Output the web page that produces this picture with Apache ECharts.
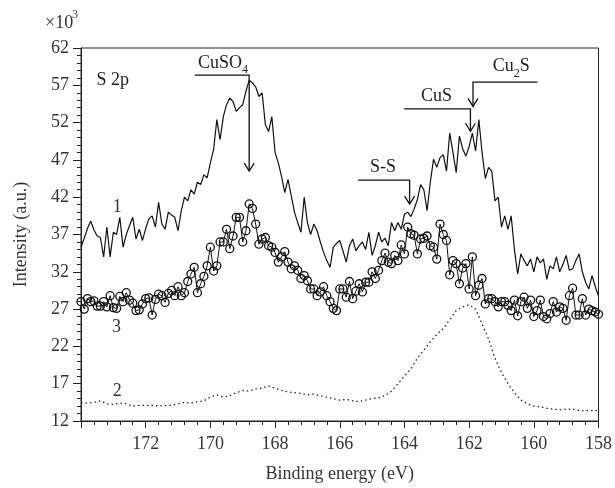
<!DOCTYPE html>
<html>
<head>
<meta charset="utf-8">
<script src="https://cdn.jsdelivr.net/npm/echarts@6/dist/echarts.min.js"></script>
<style>
html, body { margin: 0; padding: 0; background: #fff; }
#chart { width: 615px; height: 488px; }
</style>
</head>
<body>
<div id="chart"></div>
<script>
// binding energy goes 174 -> 158 eV, 0.1 eV step for curves 1 and 3, 0.2 eV for curve 2
const curve1 = [
  35.3, 36.5, 37.8, 38.8, 37.6, 36.8, 36.6, 34.0, 38.0, 34.0,
  37.3, 37.0, 39.3, 35.3, 37.0, 38.2, 39.3, 36.4, 37.7, 36.2,
  37.8, 39.1, 39.5, 38.0, 41.3, 38.4, 37.7, 40.0, 39.6, 39.3,
  37.5, 40.2, 42.0, 41.5, 43.0, 42.4, 44.0, 43.7, 45.0, 44.6,
  46.6, 48.4, 52.4, 49.7, 52.8, 54.4, 55.3, 54.8, 53.5, 54.0,
  54.4, 56.2, 57.7, 57.3, 56.8, 55.5, 56.0, 51.7, 50.8, 52.8,
  48.0, 46.6, 44.8, 42.6, 44.4, 42.2, 40.0, 38.6, 37.3, 42.0,
  38.6, 37.0, 38.4, 37.5, 36.0, 34.6, 33.5, 32.6, 35.3, 35.8,
  36.2, 34.8, 33.3, 35.5, 36.4, 34.8, 35.5, 36.0, 35.0, 37.3,
  34.2, 35.5, 37.3, 36.0, 36.5, 35.5, 38.6, 37.5, 38.6, 37.7,
  39.7, 40.0, 39.4, 40.4, 41.7, 43.7, 43.0, 40.2, 44.0, 47.1,
  46.0, 47.3, 47.7, 45.5, 50.6, 48.0, 45.3, 50.2, 48.5, 47.5,
  48.8, 50.6, 48.2, 52.4, 48.0, 44.5, 46.0, 45.5, 41.5, 42.0,
  38.0, 39.5, 37.7, 39.5, 35.0, 31.7, 34.4, 33.5, 32.8, 33.7,
  32.0, 34.0, 33.2, 33.7, 31.0, 32.8, 32.4, 34.0, 32.0, 33.0,
  34.2, 32.2, 32.4, 33.5, 34.4, 32.0, 30.6, 29.7, 31.5, 30.0,
  28.8
]
const curve3 = [
  28.0, 27.0, 28.4, 28.0, 28.1, 27.4, 27.4, 28.0, 27.3, 28.8,
  27.2, 27.1, 28.7, 28.0, 29.2, 28.2, 27.8, 26.8, 26.9, 27.7,
  28.4, 28.5, 26.2, 28.3, 29.0, 28.8, 27.9, 29.1, 29.5, 28.8,
  30.0, 28.8, 29.2, 30.7, 31.7, 32.6, 29.2, 30.4, 31.4, 32.8,
  35.3, 32.1, 32.8, 36.0, 36.0, 37.7, 35.1, 36.8, 39.3, 39.3,
  36.0, 37.5, 41.1, 40.5, 38.4, 35.7, 36.4, 36.6, 35.5, 35.3,
  34.6, 33.3, 34.0, 34.7, 33.3, 32.4, 32.8, 32.2, 31.1, 31.5,
  30.8, 29.7, 29.7, 28.8, 29.3, 30.0, 28.8, 28.0, 27.1, 26.8,
  29.7, 29.7, 28.6, 30.7, 28.4, 29.4, 30.4, 29.3, 30.6, 30.6,
  32.0, 31.1, 32.2, 33.5, 34.5, 33.3, 33.1, 34.2, 33.5, 35.6,
  34.4, 38.0, 37.1, 36.9, 34.4, 36.4, 36.5, 36.8, 35.5, 35.3,
  33.7, 38.4, 37.0, 36.2, 31.6, 33.5, 33.1, 30.4, 32.5, 33.1,
  29.7, 34.0, 28.8, 30.2, 31.1, 27.7, 28.4, 28.4, 28.0, 27.3,
  28.0, 28.0, 27.5, 26.8, 28.2, 26.1, 28.0, 28.6, 27.1, 28.2,
  26.0, 26.8, 28.2, 26.0, 25.7, 26.4, 28.0, 26.6, 27.3, 27.1,
  25.5, 28.8, 29.8, 26.2, 26.2, 28.4, 26.2, 27.0, 26.8, 26.6,
  26.3
]
const curve2 = [
  14.4, 14.4, 14.5, 14.7, 14.3, 14.2, 14.4, 14.3, 14.0, 14.1,
  14.1, 14.1, 14.0, 14.1, 14.1, 14.3, 14.5, 14.4, 14.6, 14.7,
  15.2, 15.5, 15.2, 15.4, 15.8, 16.1, 16.0, 16.3, 16.4, 16.7,
  16.4, 16.1, 15.9, 15.8, 15.7, 15.5, 15.6, 15.4, 15.2, 15.0,
  14.8, 14.9, 14.7, 14.6, 14.8, 15.0, 15.1, 15.4, 16.0, 17.0,
  18.0, 19.0, 20.4, 21.5, 22.6, 23.6, 24.4, 25.6, 26.8, 27.3,
  27.6, 27.0, 25.0, 23.0, 20.4, 18.5, 17.0, 15.8, 14.8, 14.3,
  14.0, 13.9, 13.7, 13.6, 13.5, 13.6, 13.6, 13.4, 13.4, 13.4,
  13.4
]
const xTicks = [158, 174, 2]
const yTicks = [12, 62, 5]

// peak annotations: [text, textX, textY, lineFromX, lineToX, lineY, arrowTipY]
const peaks = [
  ['CuSO{sub|4}', 169.61, 59.96, 170.48, 168.80, 58.36, 45.5],
  ['S-S', 164.66, 45.96, 165.43, 163.84, 44.3, 41.07],
  ['CuS', 163.01, 55.5, 164.01, 161.96, 53.83, 50.84],
  ['Cu{sub|2}S', 160.70, 59.5, 159.89, 161.88, 57.43, 54.17]
]
// curve labels [text, x, y]
const curveLabels = [['1', 172.88, 40.63], ['3', 172.9, 24.6], ['2', 172.88, 15.96]]

const pair = (arr, step) => arr.map((v, i) => [+(174 - i * step).toFixed(1), v])

const font = 'Liberation Serif'
const ink = '#222'
let chart = echarts.init(document.getElementById('chart'))
chart.setOption({
  animation: false,
  grid: {
    left: 81,
    right: 16,
    top: 48,
    bottom: 65,
    show: true,
    borderColor: ink,
    borderWidth: 1
  },
  xAxis: {
    type: 'value',
    inverse: true,
    min: xTicks[0],
    max: xTicks[1],
    interval: xTicks[2],
    name: 'Binding energy (eV)',
    nameLocation: 'middle',
    nameGap: 44,
    nameTextStyle: { fontFamily: font, fontSize: 18, color: '#333' },
    axisLine: { lineStyle: { color: ink, width: 1 } },
    axisTick: { length: 7, lineStyle: { color: ink } },
    minorTick: { show: true, splitNumber: 5, length: 4, lineStyle: { color: ink } },
    axisLabel: { fontFamily: font, fontSize: 18, color: '#333', margin: 14, showMaxLabel: false },
    splitLine: { show: false }
  },
  yAxis: {
    type: 'value',
    min: yTicks[0],
    max: yTicks[1],
    interval: yTicks[2],
    name: 'Intensity (a.u.)',
    nameLocation: 'middle',
    nameGap: 51,
    nameTextStyle: { fontFamily: font, fontSize: 18, color: '#333' },
    axisLine: { lineStyle: { color: ink, width: 1 } },
    axisTick: { length: 8, lineStyle: { color: ink } },
    minorTick: { show: true, splitNumber: 5, length: 4, lineStyle: { color: ink } },
    axisLabel: { fontFamily: font, fontSize: 18, color: '#333', margin: 12 },
    splitLine: { show: false }
  },
  series: [
    {
      name: '1',
      type: 'line',
      data: pair(curve1, 0.1),
      showSymbol: false,
      lineStyle: { color: '#111', width: 1.2 }
    },
    {
      name: '3',
      type: 'line',
      data: pair(curve3, 0.1),
      symbol: 'circle',
      symbolSize: 8,
      showAllSymbol: true,
      lineStyle: { color: '#111', width: 1 },
      itemStyle: { color: 'rgba(0,0,0,0)', borderColor: '#111', borderWidth: 1.3 }
    },
    {
      name: '2',
      type: 'line',
      data: pair(curve2, 0.2),
      showSymbol: false,
      lineStyle: { color: '#222', width: 1.3, type: [1.5, 3] }
    }
  ]
})

// annotations placed from data coordinates
const px = (x, y) => chart.convertToPixel({ gridIndex: 0 }, [x, y])
const sub = { sub: { fontFamily: font, fontSize: 12, color: '#222', verticalAlign: 'bottom', padding: [0, 0, -4, 0] } }
let elements = []
peaks.forEach(p => {
  let t = px(p[1], p[2])
  let a = px(p[3], p[5])
  let b = px(p[4], p[5])
  let tip = px(p[4], p[6])
  elements.push({
    type: 'text',
    x: t[0],
    y: t[1],
    style: { text: p[0], fontFamily: font, fontSize: 18, fill: '#222', align: 'center', verticalAlign: 'middle', rich: sub }
  })
  elements.push({
    type: 'polyline',
    shape: { points: [a, b, tip] },
    style: { stroke: '#111', lineWidth: 1.3, fill: null }
  })
  elements.push({
    type: 'polyline',
    shape: { points: [[tip[0] - 5, tip[1] - 8], tip, [tip[0] + 5, tip[1] - 8]] },
    style: { stroke: '#111', lineWidth: 1.3, fill: null }
  })
})
curveLabels.forEach(c => {
  let p = px(c[1], c[2])
  elements.push({
    type: 'text',
    x: p[0],
    y: p[1],
    style: { text: c[0], fontFamily: font, fontSize: 18, fill: '#333', align: 'center', verticalAlign: 'middle' }
  })
})
let s2p = px(173.52, 57.7)
elements.push({
  type: 'text',
  x: s2p[0],
  y: s2p[1],
  style: { text: 'S 2p', fontFamily: font, fontSize: 18, fill: '#222', align: 'left', verticalAlign: 'middle' }
})
// ×10^3 multiplier above the y axis
elements.push({
  type: 'text',
  x: 45,
  y: 23,
  style: { text: '×10', fontFamily: font, fontSize: 18, fill: '#333', align: 'left', verticalAlign: 'middle' }
})
elements.push({
  type: 'text',
  x: 72,
  y: 15,
  style: { text: '3', fontFamily: font, fontSize: 12, fill: '#333', align: 'left', verticalAlign: 'middle' }
})
chart.setOption({ graphic: { elements: elements } })
</script>
</body>
</html>
